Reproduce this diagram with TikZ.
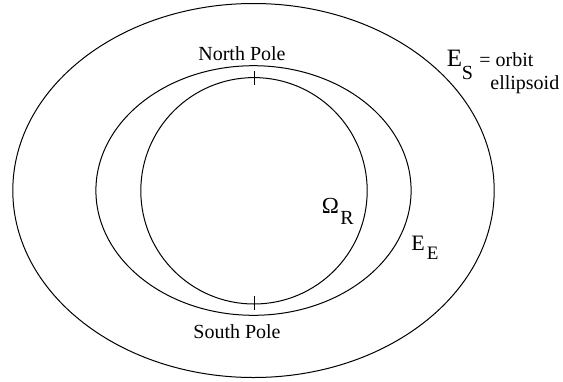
\documentclass[tikz,border=0pt]{standalone}
\usepackage{fontspec}
\setmainfont{Liberation Serif}
\usetikzlibrary{positioning}

\begin{document}
\begin{tikzpicture}[
    x=0.5pt, y=-0.5pt,
    curve/.style={draw, line width=0.5pt},
    poletick/.style={draw, line width=0.5pt},
    lbl/.style={inner sep=0pt, anchor=base west, font=\fontsize{10}{12}\selectfont}
  ]
    \useasboundingbox (0,0) rectangle (563,381);
    \coordinate (c) at (253.5,190.5);

    % orbit ellipsoid, earth ellipsoid and sphere
    \draw[curve] (c) ellipse [x radius=240.7, y radius=187];
    \draw[curve] (c) ellipse [x radius=157.6, y radius=124.8];
    \draw[curve] (254,190.8) circle [radius=113.2];

    % poles
    \coordinate (np1) at (254,71);
    \coordinate (np2) at (254,85);
    \coordinate (sp1) at (254,296);
    \coordinate (sp2) at (254,310);
    \draw[poletick] (np1) -- (np2);
    \draw[poletick] (sp1) -- (sp2);

    \node[lbl, anchor=base] (north) at (242,60) {North Pole};
    \node[lbl, anchor=base] (south) at (237,338) {South Pole};

    % labels
    \node[lbl] (omega) at (321.5,213) {\fontsize{11.5}{12}\selectfont Ω};
    \node[lbl] (omegasub) at (340,224) {R};
    \node[lbl] (ee) at (411,250) {\fontsize{11}{12}\selectfont E};
    \node[lbl] (eesub) at (426.5,259) {\fontsize{9.5}{12}\selectfont E};
    \node[lbl] (es) at (446.5,66.5) {\fontsize{12.5}{14}\selectfont E};
    \node[lbl] (essub) at (461.5,79) {S};
    \node[lbl] (esdef) at (479,66.5) {= orbit};
    \node[lbl] (esdef2) at (490,89) {ellipsoid};
\end{tikzpicture}
\end{document}
